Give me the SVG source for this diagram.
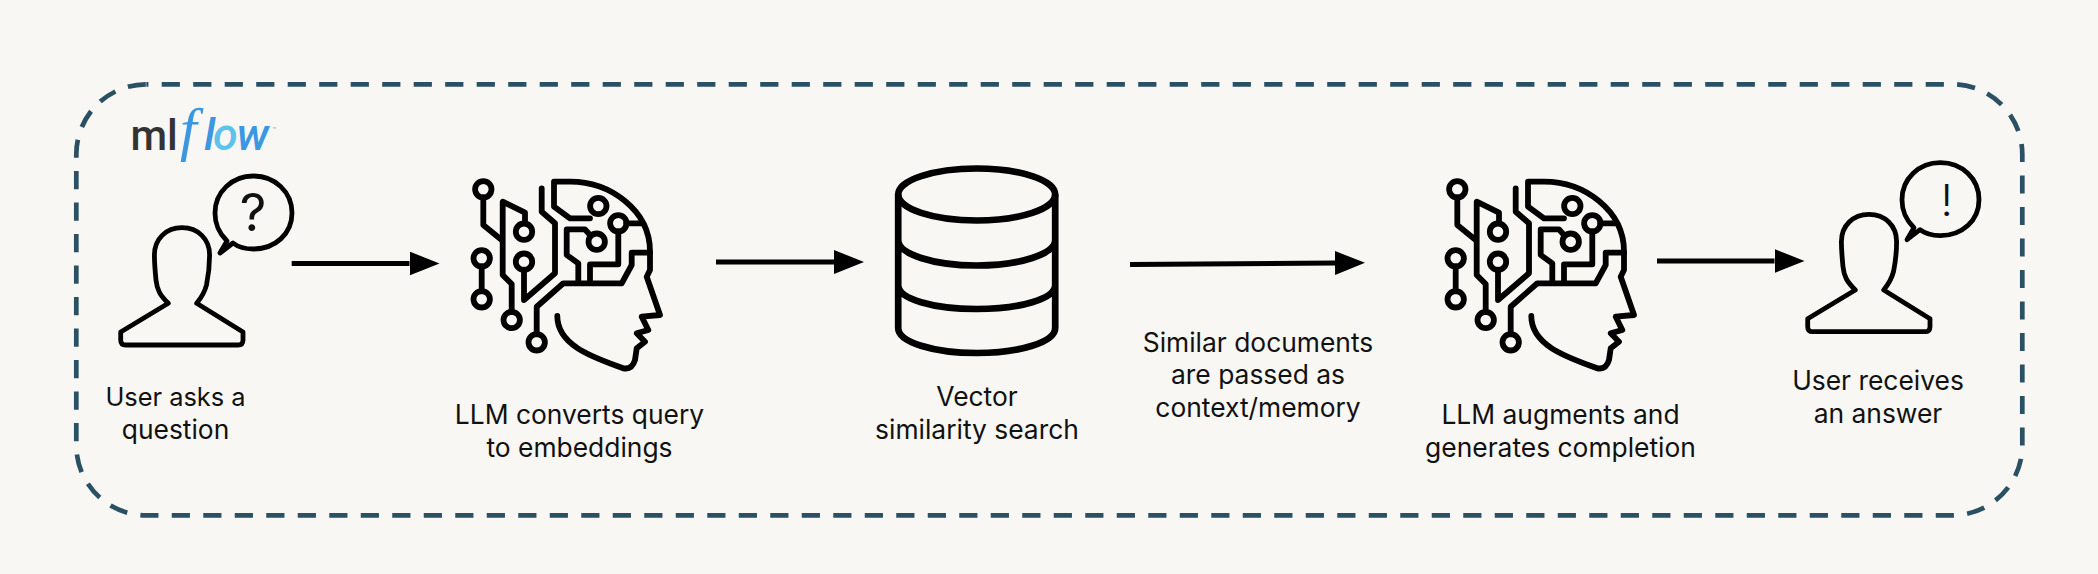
<svg xmlns="http://www.w3.org/2000/svg" width="2098" height="574" viewBox="0 0 2098 574">
<defs>
<marker id="ah" markerUnits="userSpaceOnUse" markerWidth="32" markerHeight="26" refX="0" refY="12" orient="auto"><path d="M0 0L30 12L0 24Z" fill="#000"/></marker>
<g id="person" fill="none" stroke="#000" stroke-width="4.800" stroke-linejoin="round">
<path d="M168.300 303.300C160 295 157 290 156 280C154.500 265 154.400 262 154.400 255C154.400 239 166 227.700 182 227.700C198 227.700 209.600 239 209.600 255C209.600 265 208.500 275 206.500 285C204.500 293 201 298 196.700 303.300L243 332V340Q243 345 238 345H125.700Q120.700 345 120.700 340V332Z"/>
<path d="M227 241C218 232 215 224 215 213C215 192 232 176 253.300 176C275 176 292 192 292 213C292 234 275 249 253.300 249C244 249 238 247 233 243L220 253Z"/>
</g>
<g id="brain" fill="none" stroke="#000" stroke-width="5.800" stroke-linejoin="round" stroke-linecap="round">
<circle cx="33.300" cy="29.300" r="8.200"/><circle cx="74" cy="71.700" r="8.200"/><circle cx="31.700" cy="98.300" r="8.200"/><circle cx="31.700" cy="139.300" r="8.200"/><circle cx="74" cy="101.700" r="8.200"/><circle cx="61.700" cy="160" r="8.200"/><circle cx="86.700" cy="182.300" r="8.200"/><circle cx="148.300" cy="46" r="8.200"/><circle cx="168.300" cy="63.300" r="8.200"/><circle cx="146.700" cy="81.700" r="8.200"/>
<path d="M33.300 37.300V65L51.700 80"/>
<path d="M75 63V52.700L52.700 41.700V115L61.700 124V152"/>
<path d="M31.700 106.300V131.300"/>
<path d="M74 109.700V140L105 113.300V63.300L91.700 51.700V28.300"/>
<path d="M140 58.300H120L104 46.700V21.700H120C160 21.700 200 50 200 91.700V110L196.700 116.700L210 155L191.700 156.700L198.300 170L186.700 173.300L195 181.700L186.700 188.300L185 200Q182 210 173.300 208.300C146.700 198.300 107.300 186.700 107.300 156"/>
<path d="M176.300 63.300H191.700"/>
<path d="M168.300 71.300V104.300H140V121.700"/>
<path d="M140 75L135 69.300H116.700V95L128.300 103.300V121.700"/>
<path d="M86.700 174.300V146.700L113.300 123.300H171.700L181.700 105V92.700H200"/>
</g>
</defs>
<style>
text{font-family:"Inter","Liberation Sans",sans-serif;font-size:26.400px;fill:#111;text-anchor:middle}
.conn{fill:none;stroke:#000;stroke-width:5;marker-end:url(#ah)}
.lg{text-anchor:start;font-family:"Roboto","Liberation Sans",sans-serif}
.fl{font-style:italic;font-weight:500;fill:#3b97e0;font-size:45px}
</style>
<rect width="2098" height="574" fill="#f8f7f4"/>
<rect id="frame" x="76.300" y="84.300" width="1946" height="431" rx="70" fill="none" stroke="#2a5064" stroke-width="4.700" stroke-dasharray="18.200 13.300" stroke-dashoffset="16.100"/>
<g id="logo"><text class="lg" x="130.500" y="150" style="font-size:42px;font-weight:500;fill:#333">ml</text><text class="lg" x="180" y="149" style="font-family:'Liberation Serif',serif;font-style:italic;font-size:60px;fill:#3b97e0">f</text><text class="lg fl" x="204" y="150">l</text><text class="lg fl" x="213" y="150" style="fill:#5cc3ea">o</text><text class="lg fl" x="236.500" y="150">w</text><text class="lg" x="272" y="132" style="font-size:7px;fill:#8aa">™</text></g>
<g id="connectors">
<path class="conn" d="M291.700 263.500H409.500"/>
<path class="conn" d="M716 262H834"/>
<path class="conn" d="M1130 264.500L1335 263"/>
<path class="conn" d="M1657 261H1774.500"/>
</g>
<g id="user-ask"><use href="#person"/><text x="253" y="231" style="font-size:52px">?</text><text x="175.500" y="405.500" style="font-size:25.400px">User asks a</text><text x="175.500" y="439">question</text></g>
<g id="llm-embed"><use href="#brain" x="450" y="160"/><text x="579.500" y="424">LLM converts query</text><text x="579.500" y="457">to embeddings</text></g>
<g id="vector"><g fill="none" stroke="#000" stroke-width="6.700"><ellipse cx="976.700" cy="194.500" rx="78.500" ry="26"/><path d="M898.200 194.500V328C898.200 342 933 353 976.700 353C1020 353 1055.200 342 1055.200 328V194.500M898.200 240C898.200 254 933 265.500 976.700 265.500C1020 265.500 1055.200 254 1055.200 240M898.200 285C898.200 299 933 309 976.700 309C1020 309 1055.200 299 1055.200 285"/></g><text x="977" y="406">Vector</text><text x="977" y="439">similarity search</text></g>
<g id="docs"><text x="1258" y="351.700">Similar documents</text><text x="1258" y="384.300">are passed as</text><text x="1258" y="416.700">context/memory</text></g>
<g id="llm-complete"><use href="#brain" x="1424" y="160"/><text x="1560.500" y="424">LLM augments and</text><text x="1560.500" y="457">generates completion</text></g>
<g id="user-answer"><use href="#person" x="1687" y="-13.300"/><text x="1946.700" y="215.700" style="font-size:44px;font-weight:300">!</text><text x="1878" y="390">User receives</text><text x="1878" y="423">an answer</text></g>
</svg>
